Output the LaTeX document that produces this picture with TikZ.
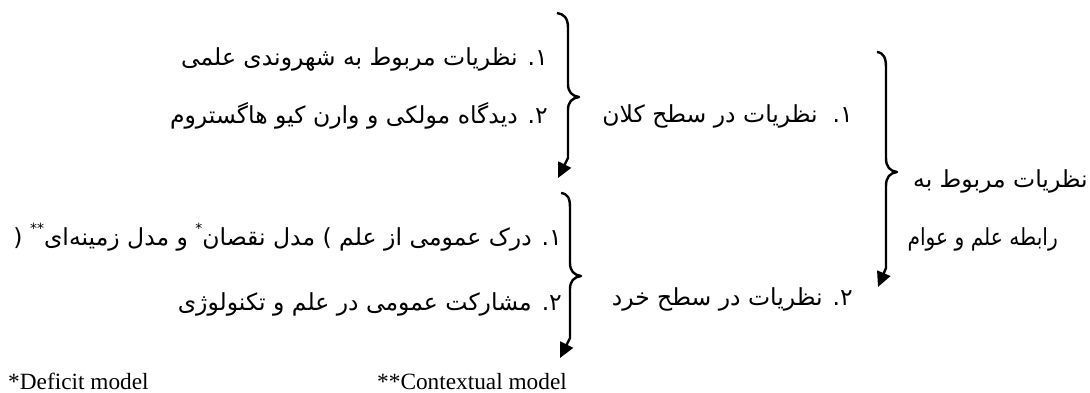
\documentclass[tikz,border=0pt]{standalone}
\usepackage{fontspec}
\setmainfont{Liberation Serif}
\newfontfamily\farsi[Script=Arabic]{DejaVu Sans}
\TeXXeTstate=1
\usetikzlibrary{arrows.meta}
\newcommand{\sstar}[1]{\raisebox{0.5em}{\fontsize{14}{15}\selectfont #1}}
\begin{document}
\begin{tikzpicture}[x=1pt,y=-1pt,
  fatext/.style={font=\farsi\fontsize{23.5}{26}\selectfont, inner sep=0pt, anchor=base east},
  entext/.style={font=\fontsize{23.3}{26}\selectfont, inner sep=0pt, anchor=base west},
  brace/.style={line width=2.4pt, line join=round},
  arr/.style={-{Triangle[length=15pt,width=14pt]}}]
\useasboundingbox (0,0) rectangle (1090,392);

% texts
\node[fatext] (r1) at (1088,187) {\beginR نظریات مربوط به\endR};
\node[fatext] (r2) at (1058,245) {\scalebox{0.86}[1]{\beginR رابطه علم و عوام\endR}};
\node[fatext] (m1) at (853,122) {\beginR ۱.\ \ نظریات در سطح کلان\endR};
\node[fatext] (m2) at (853,305) {\beginR ۲. نظریات در سطح خرد\endR};
\node[fatext] (a1) at (548,65) {\beginR ۱. نظریات مربوط به شهروندی علمی\endR};
\node[fatext] (a2) at (548,123) {\beginR ۲. دیدگاه مولکی و وارن کیو هاگستروم\endR};
\node[fatext] (b1) at (562,245) {\beginR ۱. درک عمومی از علم ) مدل نقصان\sstar{*} و مدل زمینه‌ای\sstar{**} (\endR};
\node[fatext] (b2) at (562,310) {\beginR ۲. مشارکت عمومی در علم و تکنولوژی\endR};
\node[entext] (f1) at (8,389) {*Deficit model};
\node[entext] (f2) at (377,389) {**Contextual model};

% big brace
\draw[brace,arr] (877,52) .. controls (884,53) and (886,58) .. (886,68)
  -- (886,158) .. controls (886,167) and (890,171) .. (897,172)
  .. controls (890,173) and (886,177) .. (886,186) -- (886,268) -- (878,287);
% upper small brace
\draw[brace,arr] (557,13) .. controls (564,14) and (568,18) .. (568,28)
  -- (568,84) .. controls (568,92) and (572,96) .. (579,97)
  .. controls (572,98) and (568,102) .. (568,110) -- (568,158) -- (558,178);
% lower small brace
\draw[brace,arr] (561,193) .. controls (568,194) and (570,198) .. (570,208)
  -- (570,263) .. controls (570,271) and (574,275) .. (581,276)
  .. controls (574,277) and (570,281) .. (570,289) -- (570,338) -- (560,358);
\end{tikzpicture}
\end{document}
